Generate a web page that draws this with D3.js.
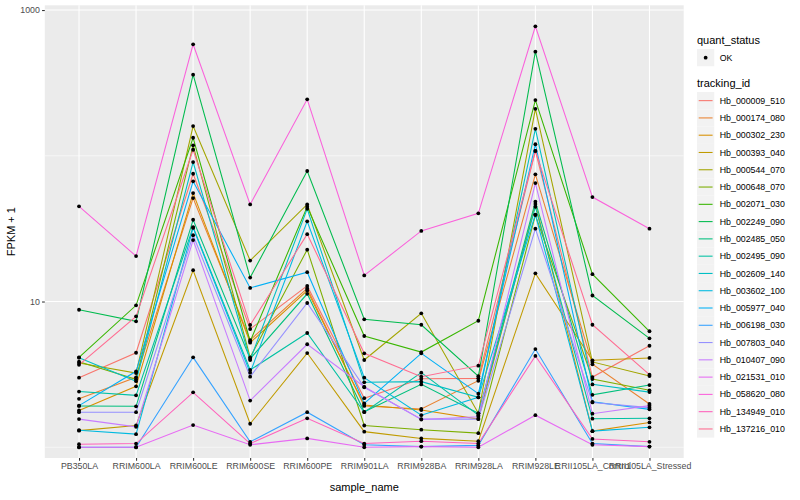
<!DOCTYPE html>
<html><head><meta charset="utf-8">
<script src="https://cdn.jsdelivr.net/npm/d3@7"></script>
<style>body{margin:0;background:#fff}</style>
</head><body><svg id="c" width="800" height="500"></svg>
<script>
const samples = ["PB350LA","RRIM600LA","RRIM600LE","RRIM600SE","RRIM600PE","RRIM901LA","RRIM928BA","RRIM928LA","RRIM928LE","RRII105LA_Control","RRII105LA_Stressed"];
const trackingIds = ["Hb_000009_510","Hb_000174_080","Hb_000302_230","Hb_000393_040","Hb_000544_070","Hb_000648_070","Hb_002071_030","Hb_002249_090","Hb_002485_050","Hb_002495_090","Hb_002609_140","Hb_003602_100","Hb_005977_040","Hb_006198_030","Hb_007803_040","Hb_010407_090","Hb_021531_010","Hb_058620_080","Hb_134949_010","Hb_137216_010"];
const palette = ["#F8766D","#EA8331","#D89000","#C09B00","#A3A500","#7CAE00","#39B600","#00BB4E","#00BF7D","#00C1A3","#00BFC4","#00BAE0","#00B0F6","#35A2FF","#9590FF","#C77CFF","#E76BF3","#FA62DB","#FF62BC","#FF6C91"];
const yTicks = [10, 1000];
const yMinor = [1, 100];

const hb_000009_510 = [3.00, 4.45, 75.3, 6.48, 12.8, 2.17, 2.95, 2.97, 108, 3.03, 4.97];
const hb_000174_080 = [2.15, 3.02, 51.3, 5.44, 12.3, 1.92, 1.83, 2.86, 74.6, 3.71, 1.98];
const hb_000302_230 = [1.79, 2.62, 55.5, 5.22, 11.9, 1.95, 1.80, 1.56, 46.7, 1.29, 1.48];
const hb_000393_040 = [1.30, 1.41, 16.4, 1.45, 4.43, 1.28, 1.15, 1.10, 15.6, 3.95, 4.10];
const hb_000544_070 = [3.78, 3.23, 160, 19.1, 46.4, 3.97, 8.30, 1.71, 210, 3.85, 3.08];
const hb_000648_070 = [3.86, 2.93, 118, 4.14, 22.7, 1.41, 1.32, 1.25, 39.2, 2.94, 2.46];
const hb_002071_030 = [4.14, 9.42, 133, 5.33, 44.7, 5.80, 4.50, 7.38, 241, 15.4, 6.25];
const hb_002249_090 = [8.78, 7.31, 360, 14.6, 78.6, 7.55, 6.93, 3.07, 518, 11.0, 5.59];
const hb_002485_050 = [1.92, 1.91, 36.4, 4.05, 11.3, 1.75, 2.70, 1.71, 48.4, 2.29, 2.67];
const hb_002495_090 = [2.41, 2.27, 32.4, 3.39, 6.08, 1.74, 3.25, 1.66, 44.7, 1.57, 1.58];
const hb_002609_140 = [4.12, 2.84, 90.6, 3.97, 43.3, 2.79, 2.82, 2.20, 153, 2.70, 2.39];
const hb_003602_100 = [1.31, 1.23, 32.0, 3.25, 35.5, 3.00, 1.66, 2.20, 39.5, 1.29, 1.37];
const hb_005977_040 = [1.93, 3.32, 66.8, 12.4, 15.9, 2.00, 4.41, 2.33, 120, 2.05, 1.82];
const hb_006198_030 = [1.00, 1.00, 4.14, 1.09, 1.74, 1.04, 1.01, 1.03, 4.72, 1.06, 1.01];
const hb_007803_040 = [1.74, 1.74, 28.5, 3.05, 9.77, 2.58, 1.56, 1.56, 31.6, 2.03, 1.87];
const hb_010407_090 = [1.56, 1.38, 26.4, 2.09, 5.09, 2.60, 1.55, 1.62, 65.0, 1.70, 1.93];
const hb_021531_010 = [1.00, 1.00, 1.42, 1.04, 1.15, 1.00, 1.01, 1.00, 1.66, 1.04, 1.01];
const hb_058620_080 = [45.0, 20.5, 582, 46.4, 244, 15.1, 30.5, 40.3, 773, 52.1, 31.6];
const hb_134949_010 = [1.05, 1.06, 2.38, 1.06, 1.58, 1.06, 1.10, 1.06, 4.23, 1.14, 1.09];
const hb_137216_010 = [3.68, 7.91, 110, 6.90, 29.0, 4.41, 3.05, 3.63, 108, 6.93, 3.15];

const seriesValues = [hb_000009_510, hb_000174_080, hb_000302_230, hb_000393_040, hb_000544_070, hb_000648_070, hb_002071_030, hb_002249_090, hb_002485_050, hb_002495_090, hb_002609_140, hb_003602_100, hb_005977_040, hb_006198_030, hb_007803_040, hb_010407_090, hb_021531_010, hb_058620_080, hb_134949_010, hb_137216_010];
const series = trackingIds.map((id, i) => ({id, color: palette[i], values: samples.map((s, j) => ({s, v: seriesValues[i][j]}))}));

const svg = d3.select("#c");
const FONT = "'Liberation Sans', Arial, Helvetica, sans-serif";
const panel = {l: 44.8, r: 683.7, t: 5.3, b: 458};
const scaleBottom = 468.3;

const allV = seriesValues.flat();
const lmin = Math.log10(d3.min(allV)), lmax = Math.log10(d3.max(allV));
const ex = 0.05 * (lmax - lmin);
const y = d3.scaleLog().domain([Math.pow(10, lmin - ex), Math.pow(10, lmax + ex)]).range([scaleBottom, panel.t]);
const x = d3.scalePoint().domain(samples).range([panel.l, panel.r]).padding(0.6);

svg.append("rect").attr("x", panel.l).attr("y", panel.t).attr("width", panel.r - panel.l).attr("height", panel.b - panel.t).attr("fill", "#EBEBEB");

const grid = svg.append("g");
grid.selectAll("line.minor").data(yMinor).join("line").attr("x1", panel.l).attr("x2", panel.r).attr("y1", d => y(d)).attr("y2", d => y(d)).attr("stroke", "#fff").attr("stroke-width", 0.55);
grid.selectAll("line.majy").data(yTicks).join("line").attr("x1", panel.l).attr("x2", panel.r).attr("y1", d => y(d)).attr("y2", d => y(d)).attr("stroke", "#fff").attr("stroke-width", 1.1);
grid.selectAll("line.majx").data(samples).join("line").attr("x1", d => x(d)).attr("x2", d => x(d)).attr("y1", panel.t).attr("y2", panel.b).attr("stroke", "#fff").attr("stroke-width", 1.1);

const line = d3.line().x(d => x(d.s)).y(d => y(d.v));
svg.append("g").selectAll("path").data(series).join("path").attr("d", d => line(d.values)).attr("fill", "none").attr("stroke", d => d.color).attr("stroke-width", 1.07);

const pts = svg.append("g");
series.forEach(sr => {
  pts.selectAll(null).data(sr.values).join("circle").attr("cx", d => x(d.s)).attr("cy", d => y(d.v)).attr("r", 1.9).attr("fill", "#000");
});

// axes
const yAxis = d3.axisLeft(y).tickValues(yTicks).tickFormat(d3.format("d")).tickSize(2.75).tickPadding(2.2);
const ya = svg.append("g").attr("transform", `translate(${panel.l},0)`).call(yAxis);
ya.select(".domain").remove();
ya.selectAll("line").attr("stroke", "#333").attr("stroke-width", 1.07);
ya.selectAll("text").attr("fill", "#4D4D4D").style("font-family", FONT).style("font-size", "8.8px");

const xAxis = d3.axisBottom(x).tickSize(2.75).tickPadding(2.2);
const xa = svg.append("g").attr("transform", `translate(0,${panel.b})`).call(xAxis);
xa.select(".domain").remove();
xa.selectAll("line").attr("stroke", "#333").attr("stroke-width", 1.07);
xa.selectAll("text").attr("fill", "#4D4D4D").style("font-family", FONT).style("font-size", "8.8px");

svg.append("text").attr("x", (panel.l + panel.r) / 2).attr("y", 491).attr("text-anchor", "middle").style("font-family", FONT).style("font-size", "11px").attr("fill", "#000").text("sample_name");
svg.append("text").attr("transform", `translate(15,${(panel.t + panel.b) / 2}) rotate(-90)`).attr("text-anchor", "middle").style("font-family", FONT).style("font-size", "11px").attr("fill", "#000").text("FPKM + 1");

// legend
const lg = svg.append("g").attr("transform", "translate(697,0)");
const keyW = 17.28;
lg.append("text").attr("x", 0).attr("y", 44).style("font-family", FONT).style("font-size", "11px").text("quant_status");
lg.append("rect").attr("x", 0).attr("y", 49).attr("width", keyW).attr("height", keyW).attr("fill", "#F2F2F2");
lg.append("circle").attr("cx", keyW / 2).attr("cy", 49 + keyW / 2).attr("r", 1.9).attr("fill", "#000");
lg.append("text").attr("x", keyW + 5.5).attr("y", 49 + keyW / 2).attr("dy", "0.35em").style("font-family", FONT).style("font-size", "8.8px").text("OK");

lg.append("text").attr("x", 0).attr("y", 87).style("font-family", FONT).style("font-size", "11px").text("tracking_id");
const items = lg.selectAll("g.item").data(series).join("g").attr("transform", (d, i) => `translate(0,${92 + i * keyW})`);
items.append("rect").attr("width", keyW).attr("height", keyW).attr("fill", "#F2F2F2");
items.append("line").attr("x1", 1.7).attr("x2", keyW - 1.7).attr("y1", keyW / 2).attr("y2", keyW / 2).attr("stroke", d => d.color).attr("stroke-width", 1.07);
items.append("text").attr("x", keyW + 5.5).attr("y", keyW / 2).attr("dy", "0.35em").style("font-family", FONT).style("font-size", "8.8px").text(d => d.id);
</script></body></html>
